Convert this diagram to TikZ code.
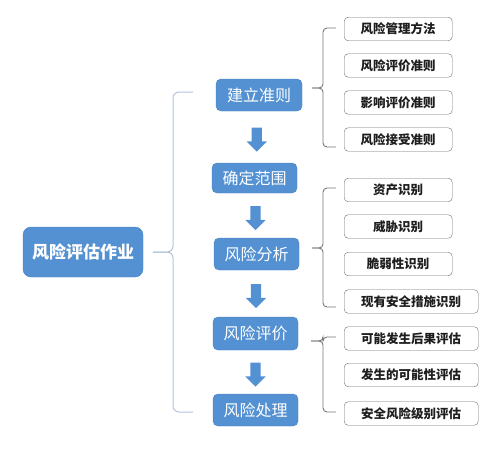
\documentclass[tikz,border=0pt]{standalone}
\usepackage{fontspec}
\newfontfamily\cjk{Noto Sans CJK SC}
\usetikzlibrary{shapes.arrows,calc}
\definecolor{stepblue}{RGB}{84,145,210}
\definecolor{stepedge}{RGB}{70,128,192}
\definecolor{leftbr}{RGB}{178,196,220}
\definecolor{rightbr}{RGB}{120,120,120}
\definecolor{boxedge}{RGB}{110,110,110}
\definecolor{txtdark}{RGB}{30,30,30}
\begin{document}
\begin{tikzpicture}[x=1pt,y=-1pt,
  mainbox/.style={draw=stepedge,fill=stepblue,rounded corners=8pt,minimum width=120pt,minimum height=50pt,inner sep=0pt,text=white,font=\cjk\bfseries\fontsize{17}{20}\selectfont},
  stepbox/.style={draw=stepedge,fill=stepblue,rounded corners=5pt,minimum width=85pt,minimum height=32pt,inner sep=0pt,text=white,font=\cjk\fontsize{16}{19}\selectfont},
  downarrow/.style={single arrow,fill=stepblue,draw=none,rotate=-90,minimum height=24pt,minimum width=20pt,inner sep=5pt,single arrow head extend=5pt},
  itembox/.style={draw=boxedge,fill=white,rounded corners=4pt,minimum height=23.5pt,inner sep=0pt,anchor=west,text=txtdark,font=\cjk\bfseries\fontsize{12.5}{15}\selectfont},
  shortbox/.style={itembox,minimum width=108pt},
  longbox/.style={itembox,minimum width=134pt},
  lbr/.style={draw=leftbr,line width=1pt,rounded corners=6pt},
  rbr/.style={draw=rightbr,line width=0.9pt,rounded corners=4pt}
]
\useasboundingbox (0,0) rectangle (500,448);

\node[mainbox] (main) at (83,252) {风险评估作业};

\node[stepbox,minimum width=86pt] (s1) at (259,95) {建立准则};
\node[stepbox,minimum height=30pt] (s2) at (254.5,178) {确定范围};
\node[stepbox] (s3) at (256.5,254) {风险分析};
\node[stepbox,minimum height=33pt] (s4) at (255.5,333.5) {风险评价};
\node[stepbox] (s5) at (255.5,410) {风险处理};

\node[downarrow] (a1) at ($(s1.south)!0.5!(s2.north)$) {};
\node[downarrow] (a2) at ($(s2.south)!0.5!(s3.north)$) {};
\node[downarrow] (a3) at ($(s3.south)!0.5!(s4.north)$) {};
\node[downarrow] (a4) at ($(s4.south)!0.5!(s5.north)$) {};

\node[shortbox] (r1) at (344,29) {风险管理方法};
\node[shortbox] (r2) at (344,65.5) {风险评价准则};
\node[shortbox] (r3) at (344,102.5) {影响评价准则};
\node[shortbox] (r4) at (344,139.5) {风险接受准则};
\node[shortbox] (r5) at (344,190) {资产识别};
\node[shortbox] (r6) at (344,226.5) {威胁识别};
\node[shortbox] (r7) at (344,264) {脆弱性识别};
\node[longbox] (r8) at (344,301.5) {现有安全措施识别};
\node[longbox] (r9) at (344,338.5) {可能发生后果评估};
\node[longbox] (r10) at (344,375) {发生的可能性评估};
\node[longbox] (r11) at (344,413.5) {安全风险级别评估};

% left bracket
\coordinate (lt) at (193,92);
\coordinate (lm) at (153,252);
\coordinate (lb) at (193,412);
\draw[lbr] (lm) -- (173,252) -- (173,92) -- (lt);
\draw[lbr] (lm) -- (173,252) -- (173,412) -- (lb);

% right bracket 1
\coordinate (b1t) at (336,28);
\coordinate (b1m) at (312,88);
\coordinate (b1b) at (336,147);
\draw[rbr] (b1m) -- (323,88) -- (323,28) -- (b1t);
\draw[rbr] (b1m) -- (323,88) -- (323,147) -- (b1b);

% right bracket 2
\coordinate (b2t) at (336,188);
\coordinate (b2m) at (312,248);
\coordinate (b2b) at (336,307);
\draw[rbr] (b2m) -- (323,248) -- (323,188) -- (b2t);
\draw[rbr] (b2m) -- (323,248) -- (323,307) -- (b2b);

% right bracket 3
\coordinate (b3t) at (336,337);
\coordinate (b3m) at (311,341);
\coordinate (b3b) at (336,412);
\draw[rbr] (b3m) -- (323,341) -- (323,337) -- (b3t);
\draw[rbr] (b3m) -- (323,341) -- (323,412) -- (b3b);
\end{tikzpicture}
\end{document}
